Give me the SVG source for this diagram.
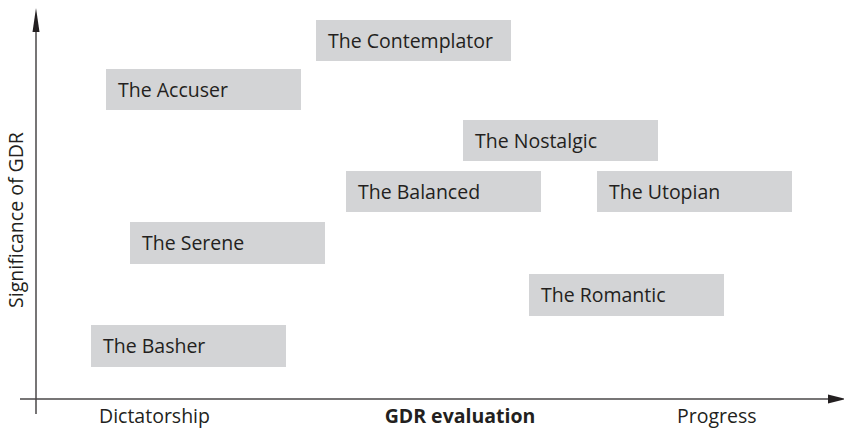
<svg xmlns="http://www.w3.org/2000/svg" width="844" height="432" viewBox="0 0 844 432">
<style>
.box{fill:#d3d4d6}
.t{font-family:"Open Sans","Liberation Sans",sans-serif;font-size:19.5px;fill:#231f20}
.ax{stroke:#4a4748;stroke-width:1.5;fill:none}
.head{fill:#231f20}
</style>
<rect width="844" height="432" fill="#fff"/>
<g id="connectors">
<line class="ax" x1="36" y1="414" x2="36" y2="28"/>
<path class="head" d="M36,8 L39.5,32 L32.5,32 Z"/>
<line class="ax" x1="20" y1="399" x2="830" y2="399"/>
<path class="head" d="M846,399 L828,394.5 L828,403.5 Z"/>
</g>
<g id="contemplator"><rect class="box" x="316" y="20" width="195" height="41"/><text class="t" x="328" y="48">The Contemplator</text></g>
<g id="accuser"><rect class="box" x="106" y="69" width="195" height="41"/><text class="t" x="118" y="97">The Accuser</text></g>
<g id="nostalgic"><rect class="box" x="463" y="120" width="195" height="41"/><text class="t" x="475" y="148">The Nostalgic</text></g>
<g id="balanced"><rect class="box" x="346" y="171" width="195" height="41"/><text class="t" x="358" y="199">The Balanced</text></g>
<g id="utopian"><rect class="box" x="597" y="171" width="195" height="41"/><text class="t" x="609" y="199">The Utopian</text></g>
<g id="serene"><rect class="box" x="130" y="222" width="195" height="42"/><text class="t" x="142" y="250">The Serene</text></g>
<g id="romantic"><rect class="box" x="529" y="274" width="195" height="42"/><text class="t" x="541" y="302">The Romantic</text></g>
<g id="basher"><rect class="box" x="91" y="325" width="195" height="42"/><text class="t" x="103" y="353">The Basher</text></g>
<g id="labels">
<text class="t" x="99" y="423">Dictatorship</text>
<text class="t" x="460" y="423" text-anchor="middle" font-weight="bold">GDR evaluation</text>
<text class="t" x="677" y="423">Progress</text>
<text class="t" transform="translate(23,220) rotate(-90)" text-anchor="middle">Significance of GDR</text>
</g>
</svg>
